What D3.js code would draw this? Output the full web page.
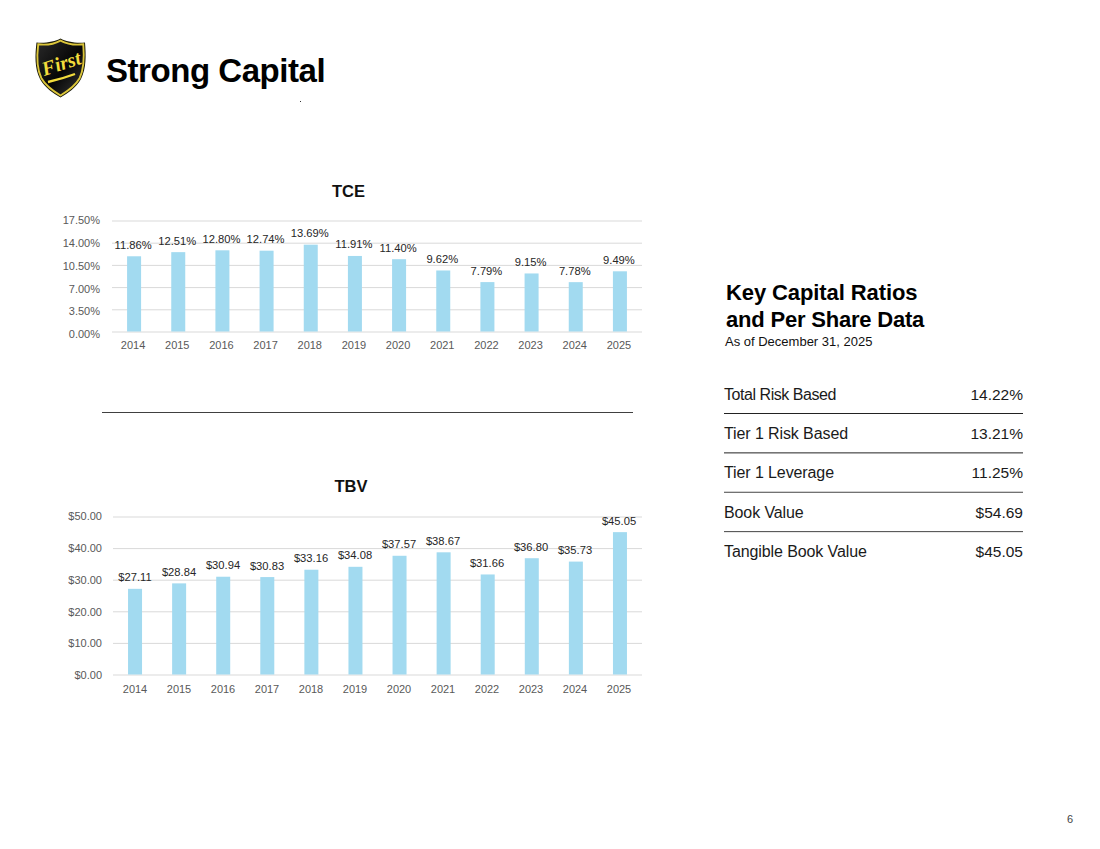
<!DOCTYPE html>
<html><head><meta charset="utf-8">
<script src="https://cdn.jsdelivr.net/npm/d3@7/dist/d3.min.js"></script>
<style>html,body{margin:0;background:#fff}svg{display:block}text{font-family:"Liberation Sans",Arial,sans-serif}</style>
</head><body><div id="c"></div>
<script>
const years=["2014","2015","2016","2017","2018","2019","2020","2021","2022","2023","2024","2025"];
const tce=[11.86,12.51,12.80,12.74,13.69,11.91,11.40,9.62,7.79,9.15,7.78,9.49];
const tbv=[27.11,28.84,30.94,30.83,33.16,34.08,37.57,38.67,31.66,36.80,35.73,45.05];
const tceTicks=[0,3.5,7,10.5,14,17.5];
const tbvTicks=[0,10,20,30,40,50];
const ratioLabels=["Total Risk Based","Tier 1 Risk Based","Tier 1 Leverage","Book Value","Tangible Book Value"];
const ratioValues=["14.22%","13.21%","11.25%","$54.69","$45.05"];

const svg=d3.select("#c").append("svg").attr("width",1100).attr("height",849);

function chart(o){
  // bars follow the plot area; the category and data labels sit on a slightly wider band, as in the source
  const x=d3.scaleBand().domain(years).range([o.x0,o.x1]);
  const xLab=d3.scaleBand().domain(years).range([o.lx0,o.x1-1]);
  const y=d3.scaleLinear().domain([0,o.max]).range([o.y0,o.y1]);
  const yLab=d3.scaleLinear().domain([0,o.max]).range([o.ly0,o.ly1]);
  const g=svg.append("g");
  g.append("text").attr("x",o.tx).attr("y",o.ty).attr("text-anchor","middle")
    .attr("font-size",16.5).attr("font-weight","bold").attr("fill","#111").text(o.title);
  const ya=g.append("g").attr("transform",`translate(${o.x0},0)`)
    .call(d3.axisLeft(y).tickValues(o.ticks).tickSize(-(o.x1-o.x0)).tickFormat(o.tfmt).tickPadding(o.pad));
  ya.select(".domain").remove();
  ya.selectAll("line").attr("stroke","#d9d9d9").attr("stroke-width",1);
  ya.selectAll("text").attr("font-size",11).attr("fill","#595959")
    .attr("dy",d=>(yLab(d)-y(d)+3.7)+"px");
  const xa=g.append("g").attr("transform",`translate(0,${o.y0})`)
    .call(d3.axisBottom(xLab).tickSize(0).tickPadding(o.xpad));
  xa.select(".domain").remove();
  xa.selectAll("text").attr("font-size",11).attr("fill","#595959");
  const bw=14;
  g.selectAll("rect").data(o.values).join("rect")
    .attr("x",(d,i)=>x(years[i])+x.bandwidth()/2-bw/2)
    .attr("width",bw).attr("y",d=>y(d)).attr("height",d=>o.y0-y(d)).attr("fill","#a2daf0");
  g.selectAll(".lab").data(o.values).join("text").attr("class","lab")
    .attr("x",(d,i)=>xLab(years[i])+xLab.bandwidth()/2).attr("y",d=>y(d)-7.5)
    .attr("text-anchor","middle").attr("font-size",11.2).attr("fill","#262626").text(o.lfmt);
}
chart({title:"TCE",tx:348.5,ty:197,x0:112,lx0:111,x1:642,y0:331.5,y1:220.5,ly0:334,ly1:220,max:17.5,values:tce,ticks:tceTicks,
  tfmt:d=>d.toFixed(2)+"%",lfmt:d=>d.toFixed(2)+"%",pad:12,xpad:10});
chart({title:"TBV",tx:351,ty:492,x0:113,lx0:113,x1:642,y0:674.5,y1:516.5,ly0:675,ly1:516,max:50,values:tbv,ticks:tbvTicks,
  tfmt:d=>"$"+d.toFixed(2),lfmt:d=>"$"+d.toFixed(2),pad:11,xpad:11});

svg.append("line").attr("x1",102).attr("x2",633).attr("y1",412.5).attr("y2",412.5).attr("stroke","#404040").attr("stroke-width",1.2);

// header
svg.append("text").attr("x",106).attr("y",82).attr("font-size",33).attr("font-weight","bold")
  .attr("letter-spacing",-0.45).attr("fill","#000").text("Strong Capital");
svg.append("rect").attr("x",300).attr("y",101).attr("width",1).attr("height",1).attr("fill","#333");

// logo
const defs=svg.append("defs");
const grad=defs.append("linearGradient").attr("id","gloss").attr("x1",0).attr("y1",0).attr("x2",1).attr("y2",1);
grad.append("stop").attr("offset","0%").attr("stop-color","#2a2a2a");
grad.append("stop").attr("offset","55%").attr("stop-color","#060606");
grad.append("stop").attr("offset","100%").attr("stop-color","#3a3a3a");
const logo=svg.append("g").attr("transform","translate(35,38)");
const shield="M25.5 0.5 C20 3.5 10 5.5 1.5 4.5 C0 17 -0.5 30 5 41 C10 50 18 55 25.5 59.5 C33 55 41 50 46 41 C51.5 30 51 17 50 4.5 C41 5.5 31 3.5 25.5 0.5 Z";
logo.append("path").attr("d",shield).attr("fill","#1a1a0a");
logo.append("path").attr("d",shield).attr("fill","url(#gloss)").attr("stroke","#dcc63a").attr("stroke-width",2)
  .attr("transform","translate(25.5,30) scale(0.93) translate(-25.5,-30)");
logo.append("text").attr("x",27).attr("y",32).attr("text-anchor","middle")
  .attr("font-size",20).attr("font-style","italic").attr("font-weight","bold").attr("fill","#f2dc3c")
  .style("font-family","'Liberation Serif',serif")
  .attr("transform","rotate(-18 27 28)").text("First");
logo.append("path").attr("d","M13 44 C22 42 32 39 40 36").attr("fill","none").attr("stroke","#f2dc3c").attr("stroke-width",2.4);

// side panel
svg.append("text").attr("x",726).attr("y",300).attr("font-size",22).attr("font-weight","bold").attr("letter-spacing",-0.1).attr("fill","#000").text("Key Capital Ratios");
svg.append("text").attr("x",726).attr("y",327).attr("font-size",22).attr("font-weight","bold").attr("letter-spacing",-0.2).attr("fill","#000").text("and Per Share Data");
svg.append("text").attr("x",725).attr("y",346).attr("font-size",13).attr("fill","#111").text("As of December 31, 2025");
const rowY=d3.scalePoint().domain(ratioLabels).range([399.5,557]);
ratioLabels.forEach((l,i)=>{
  const yy=rowY(l);
  svg.append("text").attr("x",724).attr("y",yy).attr("font-size",16).attr("fill","#1a1a1a")
    .attr("letter-spacing",i===0?-0.45:-0.1).text(l);
  svg.append("text").attr("x",1023).attr("y",yy).attr("text-anchor","end").attr("font-size",15.5).attr("fill","#1a1a1a").text(ratioValues[i]);
  if(i<4) svg.append("line").attr("x1",724).attr("x2",1023).attr("y1",yy+14).attr("y2",yy+14).attr("stroke",i<2?"#222":"#444").attr("stroke-width",1);
});
svg.append("text").attr("x",1070).attr("y",823).attr("text-anchor","middle").attr("font-size",11).attr("fill","#444").text("6");
</script></body></html>
